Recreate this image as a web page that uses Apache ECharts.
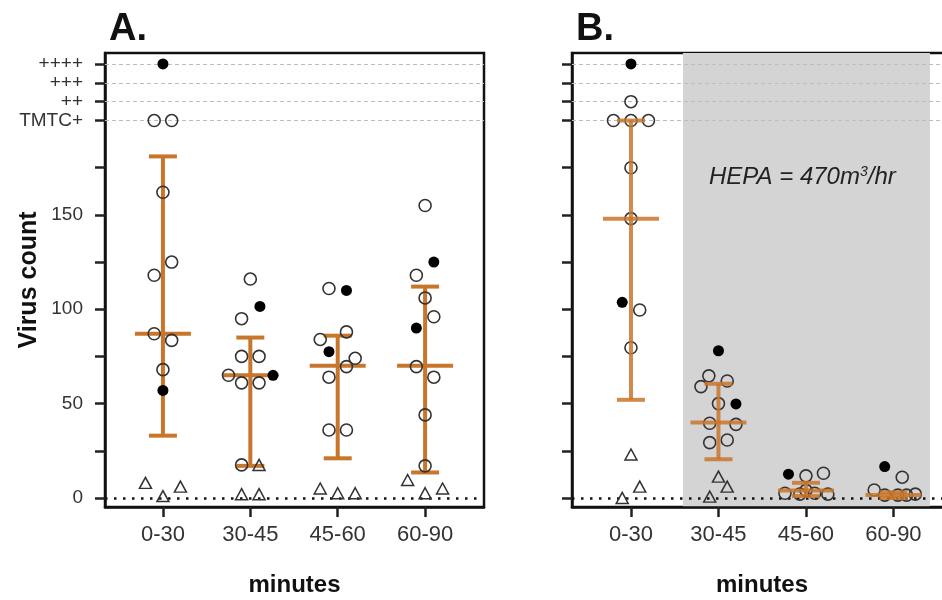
<!DOCTYPE html>
<html>
<head>
<meta charset="utf-8">
<title>Virus count by minutes</title>
<script src="https://cdn.jsdelivr.net/npm/echarts@6/dist/echarts.min.js"></script>
<style>
  html, body { margin: 0; padding: 0; background: #fff; }
  #chart { width: 942px; height: 600px; }
</style>
</head>
<body>
<div id="chart"></div>
<script>
const categories = ['0-30', '30-45', '45-60', '60-90']
const yTickValues = [0, 25, 50, 75, 100, 125, 150, 175, 200, 210, 220, 230]
const yLabelValues = [0, 50, 100, 150, 200, 210, 220, 230]
const yLabelText = { 200: 'TMTC+', 210: '++', 220: '+++', 230: '++++' }
const refLines = [200, 210, 220, 230]

// points: [category index, jitter slot, virus count]
const openA = [
  [0, -1, 200], [0, 1, 200], [0, 0, 162], [0, -1, 118], [0, 1, 125], [0, -1, 87], [0, 1, 83.5], [0, 0, 68],
  [1, 0, 116], [1, -1, 95], [1, -1, 75], [1, 1, 75], [1, -2.5, 65], [1, -1, 61], [1, 1, 61], [1, -1, 17.5],
  [2, -1, 111], [2, 1, 88], [2, -2, 84], [2, 2, 74], [2, 1, 69.6], [2, -1, 64], [2, -1, 36], [2, 1, 36],
  [3, 0, 155], [3, -1, 118], [3, 0, 106], [3, 1, 96], [3, -1, 69.6], [3, 1, 64], [3, 0, 44], [3, 0, 17]
]
const filledA = [
  [0, 0, 230], [0, 0, 57],
  [1, 1.1, 101.5], [1, 2.6, 65],
  [2, 1, 110], [2, -1, 77.5],
  [3, 1, 125], [3, -1, 90]
]
const triA = [
  [0, -2, 8], [0, 0, 1], [0, 2, 6],
  [1, 1, 17.5], [1, -1, 2], [1, 1, 2],
  [2, -2, 5], [2, 0, 2.5], [2, 2, 2.5],
  [3, -2, 9.5], [3, 0, 2.5], [3, 2, 5]
]
const meanA = [87, 65, 70, 70]
const lowA = [33, 17, 21, 13.5]
const highA = [181, 85, 86, 112]

const openB = [
  [0, 0, 210], [0, -2, 200], [0, 0, 200], [0, 2, 200], [0, 0, 175], [0, 0, 148], [0, 1, 99.6], [0, 0, 79.6],
  [1, -1.1, 64.7], [1, 1, 62], [1, -2, 59], [1, 0, 50], [1, -1, 39.6], [1, 2, 39], [1, -1, 29.3], [1, 1, 30.7],
  [2, 0, 11.7], [2, 2, 13.1], [2, -2.4, 2.5], [2, -0.7, 2], [2, 0, 4], [2, 1, 2.5], [2, 2.5, 2],
  [3, 1, 11], [3, -2.2, 4.2], [3, -1, 1.5], [3, 0.5, 1.5], [3, 1.5, 1.5], [3, 2.5, 2]
]
const filledB = [
  [0, 0, 230], [0, -1, 103.7],
  [1, 0, 78], [1, 2, 49.8],
  [2, -2, 12.6],
  [3, -1, 16.6]
]
const triB = [
  [0, 0, 23], [0, 1, 6], [0, -1, 0],
  [1, 0, 11.3], [1, 1, 6], [1, -1, 0.7]
]
const meanB = [148, 40, 4, 1.5]
const lowB = [52, 20.5, 1, 0]
const highB = [200, 60.5, 8, 3]

// HEPA shading covers these category positions in panel B
const hepaRange = [0.594, 3.417]

const FONT = "'Liberation Sans', Arial, sans-serif"
const ORANGE = '#c8762c'
const JITTER = 0.1

const chart = echarts.init(document.getElementById('chart'))

const toXY = (p) => [p[0] + p[1] * JITTER, p[2]]

function errorBarItem(params, api) {
  const x = api.value(0)
  const mid = api.coord([x, api.value(1)])
  const lo = api.coord([x, api.value(2)])
  const hi = api.coord([x, api.value(3)])
  const style = { stroke: ORANGE, lineWidth: 4, opacity: params.seriesIndex > 4 ? 0.85 : 1 }
  const seg = (x1, y1, x2, y2) => ({ type: 'line', shape: { x1, y1, x2, y2 }, style })
  return {
    type: 'group',
    children: [
      seg(mid[0], hi[1], mid[0], lo[1]),
      seg(mid[0] - 14, hi[1], mid[0] + 14, hi[1]),
      seg(mid[0] - 14, lo[1], mid[0] + 14, lo[1]),
      seg(mid[0] - 28, mid[1], mid[0] + 28, mid[1])
    ]
  }
}

function yAxisFor(gridIndex, showLabels) {
  return {
    type: 'value',
    gridIndex,
    min: -4.8,
    max: 235.8,
    name: showLabels ? 'Virus count' : '',
    nameLocation: 'middle',
    nameGap: 63,
    nameMoveOverlap: false,
    nameTextStyle: { fontFamily: FONT, fontSize: 25, fontWeight: 'bold', color: '#111' },
    axisLine: { show: true, onZero: false, lineStyle: { color: '#111', width: 2.5 } },
    axisTick: { show: true, customValues: yTickValues, length: 10, lineStyle: { color: '#222', width: 2.5 } },
    axisLabel: {
      show: showLabels,
      customValues: yLabelValues,
      margin: 22,
      fontFamily: FONT,
      fontSize: 19,
      color: '#333',
      formatter: (v) => yLabelText[v] || String(v)
    },
    splitLine: { show: false }
  }
}

function xAxisFor(gridIndex, min, max) {
  return {
    type: 'value',
    gridIndex,
    min,
    max,
    name: 'minutes',
    nameLocation: 'middle',
    nameGap: 66,
    nameMoveOverlap: false,
    nameTextStyle: { fontFamily: FONT, fontSize: 24, fontWeight: 'bold', color: '#111' },
    axisLine: { show: true, onZero: false, lineStyle: { color: '#111', width: 2.5 } },
    axisTick: { show: true, customValues: [0, 1, 2, 3], length: 10, lineStyle: { color: '#222', width: 2.5 } },
    axisLabel: {
      customValues: [0, 1, 2, 3],
      margin: 17,
      fontFamily: FONT,
      fontSize: 22,
      color: '#333',
      formatter: (v) => categories[Math.round(v)]
    },
    splitLine: { show: false }
  }
}

function refSeries(idx, withArea) {
  const s = {
    type: 'scatter',
    xAxisIndex: idx,
    yAxisIndex: idx,
    data: [],
    z: 1,
    silent: true,
    markLine: {
      silent: true,
      symbol: 'none',
      z: 1,
      label: { show: false },
      data: refLines.map((v) => ({ yAxis: v, lineStyle: { type: [4, 3], color: '#bdbdbd', width: 1 } }))
        .concat([{ yAxis: 0, lineStyle: { type: [2.5, 6.5], color: '#111', width: 2.5 } }])
    }
  }
  if (withArea) {
    s.markArea = {
      silent: true,
      z: 0,
      itemStyle: { color: '#d4d4d4' },
      data: [[{ xAxis: hepaRange[0] }, { xAxis: hepaRange[1] }]]
    }
  }
  return s
}

function pointSeries(idx, pts, kind, z) {
  const base = {
    type: 'scatter',
    xAxisIndex: idx,
    yAxisIndex: idx,
    data: pts.map(toXY),
    z,
    silent: true,
    emphasis: { disabled: true }
  }
  if (kind === 'open') {
    return Object.assign(base, {
      symbol: 'circle', symbolSize: 12,
      itemStyle: { color: 'rgba(255,255,255,0)', borderColor: '#333', borderWidth: 1.6, opacity: 1 }
    })
  }
  if (kind === 'filled') {
    return Object.assign(base, { symbol: 'circle', symbolSize: 11, itemStyle: { color: '#000', opacity: 1 } })
  }
  return Object.assign(base, {
    symbol: 'triangle', symbolSize: [12, 11],
    itemStyle: { color: 'rgba(255,255,255,0)', borderColor: '#333', borderWidth: 1.5, opacity: 1 }
  })
}

function barSeries(idx, mean, low, high, z) {
  return {
    type: 'custom',
    xAxisIndex: idx,
    yAxisIndex: idx,
    renderItem: errorBarItem,
    data: categories.map((c, i) => [i, mean[i], low[i], high[i]]),
    z,
    silent: true
  }
}

const option = {
  animation: false,
  backgroundColor: '#fff',
  title: [
    { text: 'A.', left: 104, top: 6, textStyle: { fontFamily: FONT, fontSize: 38, fontWeight: 'bold', color: '#111' } },
    { text: 'B.', left: 571, top: 6, textStyle: { fontFamily: FONT, fontSize: 38, fontWeight: 'bold', color: '#111' } }
  ],
  grid: [
    { left: 105, top: 53, width: 379, height: 454, outerBoundsMode: 'none', show: true, borderColor: '#111', borderWidth: 2.5, backgroundColor: '#fff' },
    { left: 572, top: 53, width: 380, height: 454, outerBoundsMode: 'none', show: true, borderColor: '#111', borderWidth: 2.5, backgroundColor: '#fff' }
  ],
  xAxis: [xAxisFor(0, -0.663, 3.674), xAxisFor(1, -0.674, 3.669)],
  yAxis: [yAxisFor(0, true), yAxisFor(1, false)],
  graphic: [
    {
      type: 'text',
      left: 709,
      top: 165,
      z: 100,
      style: {
        text: '{a|HEPA = 470m}{s|3}{a|/hr}',
        rich: {
          a: { fontFamily: FONT, fontSize: 24, fontStyle: 'italic', fill: '#222', verticalAlign: 'bottom' },
          s: { fontFamily: FONT, fontSize: 14, fontStyle: 'italic', fill: '#222', verticalAlign: 'top', padding: [0, 0, 10, 0] }
        }
      }
    }
  ],
  series: [
    refSeries(0, false),
    barSeries(0, meanA, lowA, highA, 3),
    pointSeries(0, openA, 'open', 10),
    pointSeries(0, filledA, 'filled', 10),
    pointSeries(0, triA, 'tri', 10),
    refSeries(1, true),
    pointSeries(1, openB, 'open', 10),
    pointSeries(1, filledB, 'filled', 10),
    pointSeries(1, triB, 'tri', 10),
    barSeries(1, meanB, lowB, highB, 12)
  ]
}

chart.setOption(option)
</script>
</body>
</html>
